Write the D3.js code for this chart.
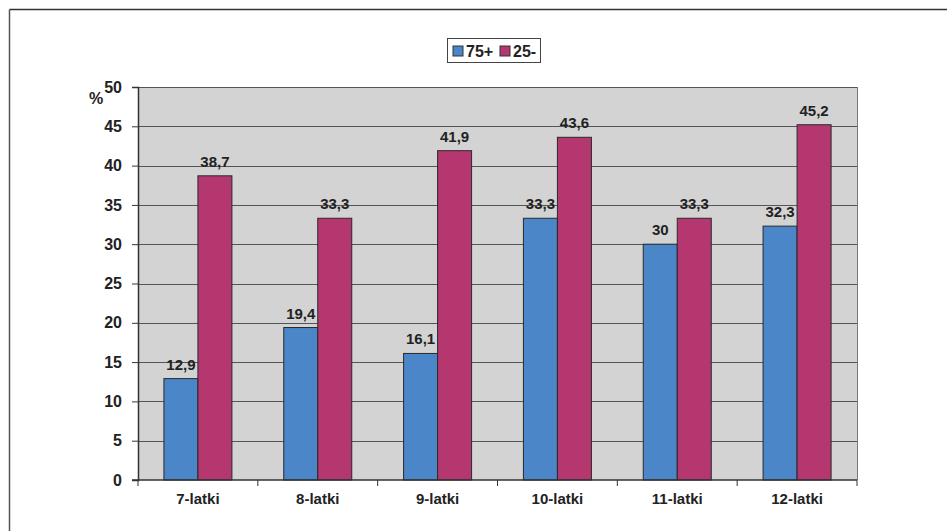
<!DOCTYPE html>
<html><head><meta charset="utf-8">
<script src="https://cdn.jsdelivr.net/npm/d3@7"></script>
<style>body{margin:0;background:#fff}svg{display:block}</style>
</head><body>
<script>
const categories = ["7-latki","8-latki","9-latki","10-latki","11-latki","12-latki"];
const seriesNames = ["75+","25-"];
const values75 = [12.9, 19.4, 16.1, 33.3, 30, 32.3];
const values25 = [38.7, 33.3, 41.9, 43.6, 33.3, 45.2];
const labels75 = ["12,9","19,4","16,1","33,3","30","32,3"];
const labels25 = ["38,7","33,3","41,9","43,6","33,3","45,2"];
const yTicks = [0,5,10,15,20,25,30,35,40,45,50];
const colors = ["#4a86c8","#b5376f"];

const W = 947, H = 531;
const svg = d3.select("body").append("svg").attr("width", W).attr("height", H)
  .style("font-family", "'Liberation Sans', Arial, sans-serif");

// outer frame
svg.append("line").attr("x1",9.5).attr("x2",W).attr("y1",9.5).attr("y2",9.5).attr("stroke","#333").attr("stroke-width",1.5);
svg.append("line").attr("x1",9.5).attr("x2",9.5).attr("y1",9.5).attr("y2",H).attr("stroke","#555").attr("stroke-width",1.5);

const L = 138, R = 857, T = 87, B = 480;
const x = d3.scaleBand().domain(categories).range([L, R]);
const y = d3.scaleLinear().domain([0, 50]).range([B, T]);

svg.append("rect").attr("x", L).attr("y", T).attr("width", R - L).attr("height", B - T).attr("fill", "#d3d3d3");

// gridlines
svg.append("g").selectAll("line").data(yTicks.filter(d => d > 0)).join("line")
  .attr("x1", L).attr("x2", R).attr("y1", d => Math.round(y(d)) + 0.5).attr("y2", d => Math.round(y(d)) + 0.5)
  .attr("stroke", "#555").attr("stroke-width", 1);
// right border
svg.append("line").attr("x1", R + 0.5).attr("x2", R + 0.5).attr("y1", T).attr("y2", B).attr("stroke", "#777");

const bw = 34;
const data = [values75, values25];
const labs = [labels75, labels25];
data.forEach((vals, s) => {
  const g = svg.append("g");
  g.selectAll("rect").data(categories).join("rect")
    .attr("x", c => x(c) + x.bandwidth() / 2 - bw + s * bw)
    .attr("y", (c, i) => y(vals[i]))
    .attr("width", bw)
    .attr("height", (c, i) => B - y(vals[i]))
    .attr("fill", colors[s]).attr("stroke", "#2a2a2a").attr("stroke-width", 1);
  g.selectAll("text").data(categories).join("text")
    .attr("x", c => x(c) + x.bandwidth() / 2 - bw / 2 + s * bw)
    .attr("y", (c, i) => y(vals[i]) - 9)
    .attr("text-anchor", "middle").attr("font-size", 15).attr("font-weight", "bold").attr("fill", "#222")
    .text((c, i) => labs[s][i]);
});

// y axis
const yAxis = svg.append("g").attr("transform", `translate(${L},0)`)
  .call(d3.axisLeft(y).tickValues(yTicks).tickSize(6).tickPadding(10).tickFormat(d => d));
yAxis.select(".domain").attr("stroke", "#333").attr("stroke-width", 1.5);
yAxis.selectAll(".tick line").attr("stroke", "#333");
yAxis.selectAll("text").attr("font-size", 16).attr("font-weight", "bold").attr("fill", "#222")
  .style("font-family", "'Liberation Sans', Arial, sans-serif");
svg.append("text").attr("x", 96).attr("y", 104).attr("text-anchor", "middle").attr("font-size", 16)
  .attr("font-weight", "bold").attr("fill", "#222").text("%");

// x axis
const xAxis = svg.append("g").attr("transform", `translate(0,${B})`)
  .call(d3.axisBottom(x).tickSize(0).tickPadding(13));
xAxis.select(".domain").attr("stroke", "#333").attr("stroke-width", 1.5).attr("d", `M${L - 6},0H${R}`);
xAxis.selectAll("text").attr("font-size", 15).attr("font-weight", "bold").attr("fill", "#222")
  .attr("dy", "0.71em").style("font-family", "'Liberation Sans', Arial, sans-serif");
svg.append("g").selectAll("line").data(d3.range(categories.length + 1)).join("line")
  .attr("x1", i => L + i * x.step()).attr("x2", i => L + i * x.step())
  .attr("y1", B).attr("y2", B + 6).attr("stroke", "#333");

// legend
const lg = svg.append("g");
lg.append("rect").attr("x", 447.5).attr("y", 38.5).attr("width", 93).attr("height", 24)
  .attr("fill", "#fff").attr("stroke", "#444");
const lx = [453, 500];
seriesNames.forEach((n, i) => {
  lg.append("rect").attr("x", lx[i]).attr("y", 46).attr("width", 10).attr("height", 10)
    .attr("fill", colors[i]).attr("stroke", "#333");
  lg.append("text").attr("x", lx[i] + 13).attr("y", 57).attr("font-size", 16).attr("font-weight", "bold")
    .attr("fill", "#222").text(n);
});
</script>
</body></html>
